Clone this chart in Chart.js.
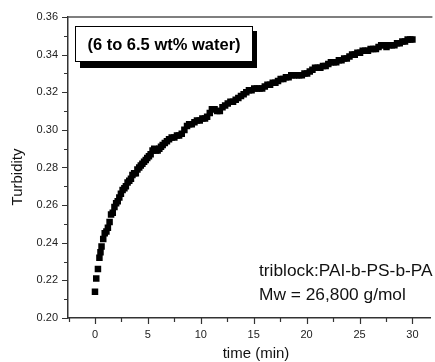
<!DOCTYPE html>
<html>
<head>
<meta charset="utf-8">
<script src="https://cdn.jsdelivr.net/npm/chart.js@4"></script>
<style>
  html, body { margin: 0; padding: 0; background: #fff; overflow: hidden; }
  #turb { display: block; }
</style>
</head>
<body>
<canvas id="turb" width="435" height="362"></canvas>
<script>
// values
const timeMin = [
  0.00, 0.12, 0.28, 0.42, 0.52, 0.62, 0.78, 0.92, 1.08, 1.22, 1.38, 1.52, 1.68, 1.84,
  2.00, 2.15, 2.30, 2.45, 2.61, 2.78, 2.92, 3.08, 3.24, 3.40, 3.54, 3.70, 3.86, 4.01,
  4.18, 4.33, 4.48, 4.64, 4.80, 4.94, 5.10, 5.26, 5.44, 5.60, 5.76, 5.92, 6.08, 6.24,
  6.40, 6.60, 6.80, 7.00, 7.25, 7.50, 7.75, 7.95, 8.20, 8.45, 8.70, 8.90, 9.15, 9.40,
  9.64, 9.90, 10.15, 10.40, 10.60, 10.85, 11.05, 11.30, 11.55, 11.80, 12.05, 12.30,
  12.55, 12.80, 13.05, 13.30, 13.55, 13.80, 14.05, 14.30, 14.55, 14.80, 15.05, 15.30,
  15.55, 15.80, 16.05, 16.30, 16.55, 16.80, 17.05, 17.30, 17.55, 17.80, 18.05, 18.30,
  18.55, 18.80, 19.05, 19.30, 19.55, 19.80, 20.05, 20.30, 20.55, 20.80, 21.05, 21.30,
  21.55, 21.80, 22.05, 22.30, 22.55, 22.80, 23.05, 23.30, 23.55, 23.80, 24.05, 24.30,
  24.55, 24.80, 25.05, 25.30, 25.55, 25.80, 26.05, 26.30, 26.55, 26.80, 27.05, 27.30,
  27.55, 27.80, 28.05, 28.30, 28.55, 28.80, 29.05, 29.30, 29.55, 29.80, 30.00
];
const turbidity = [
  0.214, 0.221, 0.226, 0.232, 0.235, 0.238, 0.242, 0.245, 0.246, 0.248, 0.251, 0.255, 0.256, 0.259,
  0.261, 0.262, 0.264, 0.266, 0.268, 0.269, 0.270, 0.272, 0.273, 0.274, 0.276, 0.277, 0.277, 0.279,
  0.280, 0.281, 0.282, 0.283, 0.284, 0.285, 0.286, 0.287, 0.289, 0.290, 0.289, 0.289, 0.290, 0.291,
  0.292, 0.293, 0.294, 0.295, 0.296, 0.296, 0.297, 0.297, 0.298, 0.300, 0.302, 0.303, 0.303, 0.304,
  0.305, 0.305, 0.306, 0.306, 0.307, 0.309, 0.311, 0.311, 0.310, 0.310, 0.312, 0.313,
  0.314, 0.315, 0.315, 0.316, 0.317, 0.318, 0.319, 0.320, 0.321, 0.321, 0.322, 0.322,
  0.322, 0.322, 0.323, 0.324, 0.324, 0.325, 0.325, 0.326, 0.327, 0.327, 0.328, 0.328,
  0.329, 0.329, 0.329, 0.329, 0.329, 0.330, 0.330, 0.331, 0.332, 0.333, 0.333, 0.333,
  0.334, 0.334, 0.335, 0.336, 0.336, 0.336, 0.337, 0.337, 0.338, 0.338, 0.339, 0.340,
  0.340, 0.341, 0.341, 0.342, 0.342, 0.342, 0.343, 0.343, 0.343, 0.344, 0.345, 0.345,
  0.344, 0.345, 0.345, 0.345, 0.346, 0.346, 0.347, 0.347, 0.348, 0.348, 0.348
];

const xMajorTicks = [0, 5, 10, 15, 20, 25, 30];
const xMinorTicks = [-2.5, 2.5, 7.5, 12.5, 17.5, 22.5, 27.5];
const xTickLabels = ['0', '5', '10', '15', '20', '25', '30'];
const yMajorTicks = [0.20, 0.22, 0.24, 0.26, 0.28, 0.30, 0.32, 0.34, 0.36];
const yMinorTicks = [0.21, 0.23, 0.25, 0.27, 0.29, 0.31, 0.33, 0.35];
const yTickLabels = ['0.20', '0.22', '0.24', '0.26', '0.28', '0.30', '0.32', '0.34', '0.36'];

const xTitle = 'time (min)';
const yTitle = 'Turbidity';
const boxNote = '(6 to 6.5 wt% water)';
const sampleNotes = ['triblock:PAI-b-PS-b-PA', 'Mw = 26,800 g/mol'];

const FONT = 'Arial, "Liberation Sans", sans-serif';
const AXIS = '#333';

function majorIndex(list, v) {
  return list.findIndex(m => Math.abs(m - v) < 1e-6);
}

// tick marks, top frame line, axis titles and the two notes
const frameDecor = {
  id: 'frameDecor',
  afterDraw(chart) {
    const { ctx, chartArea: a, scales: { x, y } } = chart;
    ctx.save();
    ctx.strokeStyle = '#555';
    ctx.lineWidth = 1.5;
    ctx.beginPath();
    ctx.moveTo(a.left, a.top);
    ctx.lineTo(a.right + 2, a.top);
    ctx.stroke();

    ctx.strokeStyle = AXIS;
    ctx.lineWidth = 1.2;
    ctx.beginPath();
    xMajorTicks.concat(xMinorTicks).forEach(v => {
      const px = Math.round(x.getPixelForValue(v)) + 0.5;
      const len = majorIndex(xMajorTicks, v) >= 0 ? 6 : 4;
      ctx.moveTo(px, a.bottom);
      ctx.lineTo(px, a.bottom + len);
    });
    yMajorTicks.concat(yMinorTicks).forEach(v => {
      const py = Math.round(y.getPixelForValue(v)) + 0.5;
      const len = majorIndex(yMajorTicks, v) >= 0 ? 6 : 4;
      ctx.moveTo(a.left, py);
      ctx.lineTo(a.left - len, py);
    });
    ctx.stroke();

    ctx.fillStyle = '#111';
    ctx.textAlign = 'center';
    ctx.textBaseline = 'middle';
    ctx.font = '15px ' + FONT;
    ctx.fillText(xTitle, 256, 354);
    ctx.save();
    ctx.translate(18, 177);
    ctx.rotate(-Math.PI / 2);
    ctx.fillText(yTitle, 0, 0);
    ctx.restore();

    // boxed note with drop shadow
    ctx.fillStyle = '#000';
    ctx.fillRect(80, 31, 177, 37);
    ctx.fillStyle = '#fff';
    ctx.fillRect(75, 26, 178, 36);
    ctx.strokeStyle = '#000';
    ctx.lineWidth = 1;
    ctx.strokeRect(75.5, 26.5, 177, 35);
    ctx.fillStyle = '#000';
    ctx.font = 'bold 16.5px ' + FONT;
    ctx.fillText(boxNote, 164, 45);

    // sample notes, slightly wide like the original
    ctx.textAlign = 'left';
    ctx.font = '16.5px ' + FONT;
    ctx.fillStyle = '#111';
    ctx.save();
    ctx.translate(259, 0);
    ctx.scale(1.05, 1);
    ctx.fillText(sampleNotes[0], 0, 271);
    ctx.fillText(sampleNotes[1], 0, 295);
    ctx.restore();
    ctx.restore();
  }
};

new Chart(document.getElementById('turb'), {
  type: 'scatter',
  data: {
    datasets: [{
      data: timeMin.map((t, i) => ({ x: t, y: turbidity[i] })),
      pointStyle: 'rect',
      pointRadius: 4.6,
      backgroundColor: '#000',
      borderWidth: 0,
      showLine: false
    }]
  },
  options: {
    responsive: false,
    animation: false,
    layout: { padding: { top: 17, right: 0, left: 0, bottom: 0 } },
    plugins: { legend: { display: false }, tooltip: { enabled: false } },
    scales: {
      x: {
        type: 'linear',
        min: -2.55,
        max: 31.7,
        afterFit: s => { s.height = 44; },
        afterBuildTicks: s => {
          s.ticks = xMajorTicks.concat(xMinorTicks).sort((p, q) => p - q).map(v => ({ value: v }));
        },
        grid: { display: false, drawTicks: false },
        border: { display: true, color: AXIS, width: 1.5 },
        ticks: {
          padding: 10,
          color: '#222',
          font: { family: FONT, size: 11 },
          maxRotation: 0,
          autoSkip: false,
          callback: v => {
            const i = majorIndex(xMajorTicks, v);
            return i >= 0 ? xTickLabels[i] : '';
          }
        }
      },
      y: {
        type: 'linear',
        min: 0.20,
        max: 0.36,
        afterFit: s => { s.width = 68; },
        afterBuildTicks: s => {
          s.ticks = yMajorTicks.concat(yMinorTicks).sort((p, q) => p - q).map(v => ({ value: v }));
        },
        grid: { display: false, drawTicks: false },
        border: { display: true, color: AXIS, width: 1.5 },
        ticks: {
          padding: 10,
          color: '#222',
          font: { family: FONT, size: 11 },
          autoSkip: false,
          callback: v => {
            const i = majorIndex(yMajorTicks, v);
            return i >= 0 ? yTickLabels[i] : '';
          }
        }
      }
    }
  },
  plugins: [frameDecor]
});
</script>
</body>
</html>
